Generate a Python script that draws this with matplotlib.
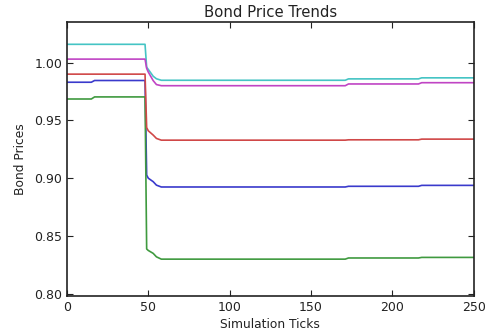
import matplotlib
matplotlib.use("Agg")
import matplotlib.pyplot as plt

ticks = [0, 15, 17, 48, 49, 50, 53, 55, 58, 171, 173, 216, 218, 250]

bond_blue = [0.983, 0.983, 0.9845, 0.9845, 0.9027, 0.900, 0.897, 0.894, 0.8924,
             0.8924, 0.893, 0.893, 0.8938, 0.8938]
bond_green = [0.9685, 0.9685, 0.9703, 0.9703, 0.8388, 0.8375, 0.835, 0.832, 0.830,
              0.830, 0.831, 0.831, 0.8315, 0.8315]
bond_red = [0.990, 0.990, 0.990, 0.990, 0.9438, 0.941, 0.9373, 0.9344, 0.9329,
            0.9329, 0.9332, 0.9332, 0.9338, 0.9338]
bond_cyan = [1.0158, 1.0158, 1.0158, 1.0158, 0.996, 0.9941, 0.9882, 0.986, 0.9847,
             0.9847, 0.9859, 0.9859, 0.9868, 0.9868]
bond_magenta = [1.0030, 1.0030, 1.0030, 1.0030, 0.995, 0.9918, 0.9844, 0.981, 0.980,
                0.980, 0.9815, 0.9815, 0.9826, 0.9826]

series = [bond_blue, bond_green, bond_red, bond_cyan, bond_magenta]
colors = ['#3a3acc', '#3f9a3f', '#d04848', '#45c4c4', '#c044c4']

fig = plt.figure(figsize=(4.92, 3.35), dpi=100)
ax = fig.add_axes([0.136, 0.116, 0.827, 0.818])
for s, c in zip(series, colors):
    ax.plot(ticks, s, color=c, linewidth=1.2)

ax.set_xlim(0, 250)
ax.set_ylim(0.798, 1.035)
ax.set_xticks([0, 50, 100, 150, 200, 250])
ax.set_yticks([0.80, 0.85, 0.90, 0.95, 1.00])
ax.set_yticklabels(['0.80', '0.85', '0.90', '0.95', '1.00'])
ax.tick_params(direction='in', top=True, right=True, labelsize=9, length=4, colors='#222222')
for sp in ax.spines.values():
    sp.set_linewidth(1.2)
    sp.set_color('#222222')
ax.set_title('Bond Price Trends', fontsize=10.7, color='#222222', pad=4)
ax.set_xlabel('Simulation Ticks', fontsize=8.8, color='#222222', labelpad=3)
ax.set_ylabel('Bond Prices', fontsize=8.8, color='#222222', labelpad=5)

fig.savefig('out.png', dpi=100)
